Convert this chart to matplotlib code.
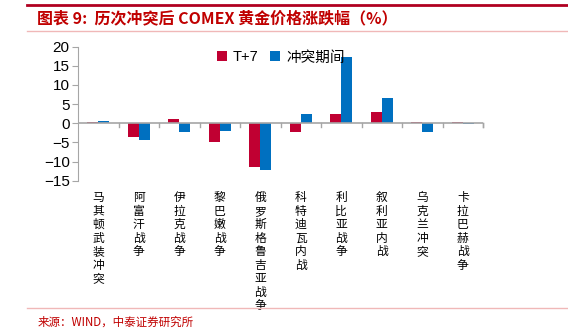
import matplotlib.pyplot as plt
import numpy as np

plt.rcParams['font.family'] = ['Noto Sans CJK SC', 'DejaVu Sans']

# conflicts and gold price change (%)
conflicts = ['马其顿武装冲突', '阿富汗战争', '伊拉克战争', '黎巴嫩战争', '俄罗斯格鲁吉亚战争',
             '科特迪瓦内战', '利比亚战争', '叙利亚内战', '乌克兰冲突', '卡拉巴赫战争']
t_plus_7 = [0.35, -3.5, 1.1, -4.8, -11.3, -2.2, 2.4, 3.0, 0.35, 0.35]
during = [0.6, -4.3, -2.3, -1.9, -12.3, 2.4, 17.2, 6.5, -2.4, -0.3]

red = '#C00032'
blue = '#0070C0'
grey = '#A6A6A6'

fig = plt.figure(figsize=(5.68, 3.29), dpi=100)
ax = fig.add_axes([78 / 568, 1 - 180.7 / 329, 405 / 568, 134 / 329])

x = np.arange(len(conflicts))
w = 0.27
ax.bar(x - w / 2, t_plus_7, w, color=red, label='T+7')
ax.bar(x + w / 2, during, w, color=blue, label='冲突期间')

ax.set_xlim(-0.5, len(conflicts) - 0.5)
ax.set_ylim(-15, 20)
ax.set_yticks(np.arange(-15, 21, 5))
ax.tick_params(axis='y', labelsize=11, length=4, color=grey, pad=2)
for lab in ax.get_yticklabels():
    lab.set_family(['Liberation Sans', 'DejaVu Sans'])

for s in ['top', 'right', 'bottom']:
    ax.spines[s].set_visible(False)
ax.spines['left'].set_color(grey)
ax.axhline(0, color=grey, lw=1.2, zorder=3)

# group separator ticks on the zero line
ax.set_xticks([])
for b in np.arange(0.5, len(conflicts), 1.0):
    ax.plot([b, b], [0, -1.0], color=grey, lw=1, clip_on=False)
ax.plot([len(conflicts) - 0.5] * 2, [0, -1.0], color=grey, lw=1, clip_on=False)

# stacked vertical category labels
for i, name in enumerate(conflicts):
    ax.text(i, -17.7, '\n'.join(name), ha='center', va='top', fontsize=8.5,
            linespacing=1.05, transform=ax.transData)

leg = ax.legend(loc='upper left', bbox_to_anchor=(0.31, 1.07), ncol=2, frameon=False,
                fontsize=10.5, handlelength=0.7, handleheight=0.7, handletextpad=0.4,
                columnspacing=0.8)
leg.get_texts()[0].set_family(['Liberation Sans', 'DejaVu Sans'])

# header and footer
fig.add_artist(plt.Line2D([27 / 568, 1], [1 - 5 / 329] * 2, color='#B00020', lw=2))
fig.add_artist(plt.Line2D([27 / 568, 1], [1 - 31 / 329] * 2, color='#F0B8B8', lw=1))
fig.add_artist(plt.Line2D([27 / 568, 1], [1 - 308 / 329] * 2, color='#F0B8B8', lw=1))
fig.text(37 / 568, 1 - 18 / 329, '图表 9:  历次冲突后 COMEX 黄金价格涨跌幅（%）',
         color='#C00000', fontsize=11.5, fontweight='bold', style='italic', va='center')
fig.text(38 / 568, 1 - 322 / 329, '来源：WIND，中泰证券研究所', color='#C00000',
         fontsize=8.3, va='center')

fig.savefig('out.png', dpi=100)
